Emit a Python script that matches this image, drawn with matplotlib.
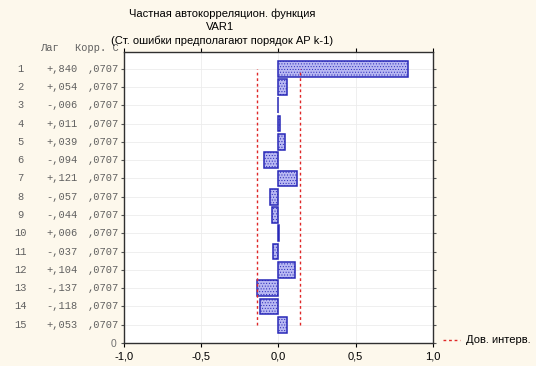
import numpy as np
import matplotlib.pyplot as plt
from matplotlib.lines import Line2D
from matplotlib.transforms import blended_transform_factory

# ------------------- data -------------------
lags = [1, 2, 3, 4, 5, 6, 7, 8, 9, 10, 11, 12, 13, 14, 15]
corr = [0.840, 0.054, -0.006, 0.011, 0.039, -0.094, 0.121, -0.057,
        -0.044, 0.006, -0.037, 0.104, -0.137, -0.118, 0.053]
std_err = [0.0707] * 15
conf_limit = 0.1414

bg = '#fdf8ec'
plt.rcParams['font.family'] = ['Liberation Sans', 'DejaVu Sans']
plt.rcParams['hatch.color'] = '#8080d0'
plt.rcParams['hatch.linewidth'] = 0.4

fig = plt.figure(figsize=(5.36, 3.66), dpi=100, facecolor=bg)
ax = fig.add_axes([0.2313, 0.0628, 0.5765, 0.7952])
ax.set_facecolor('white')

# lag 1 at the top, lag 15 near the bottom
ypos = [16 - l for l in lags]

ax.barh(ypos, corr, height=0.86, color='#b8b8f2', edgecolor='#2828b8',
        linewidth=1.1, hatch='......', zorder=3)

ax.plot([-conf_limit, -conf_limit], [ypos[-1], ypos[0]], color='#e02828',
        linestyle=(0, (2, 2)), linewidth=1.0, zorder=4)
ax.plot([conf_limit, conf_limit], [ypos[-1], ypos[0]], color='#e02828',
        linestyle=(0, (2, 2)), linewidth=1.0, zorder=4)

ax.set_xlim(-1.0, 1.0)
ax.set_ylim(0, 15.92)
ax.set_xticks([-1.0, -0.5, 0.0, 0.5, 1.0])
ax.set_xticklabels(['-1,0', '-0,5', '0,0', '0,5', '1,0'], fontsize=8)
ax.set_yticks([0] + ypos)
ax.set_yticklabels(['0'] + [''] * len(ypos), fontsize=7.5, color='#707070')
ax.tick_params(axis='x', direction='out', length=3, top=True, labeltop=False,
               pad=3)
ax.tick_params(axis='y', direction='out', length=2, right=True, color='#555555')
ax.grid(True, color='#ececec', linewidth=0.6, zorder=0)
for s in ax.spines.values():
    s.set_color('#303030')
    s.set_linewidth(1.0)

# table of lag / corr / se on the left
tr = blended_transform_factory(fig.transFigure, ax.transData)
mono = 'Liberation Mono'
for l, c, se, y in zip(lags, corr, std_err, ypos):
    ctxt = ('+' if c >= 0 else '-') + (',%03d' % round(abs(c) * 1000))
    setxt = ',' + ('%.4f' % se).split('.')[1]
    fig.text(0.038, y, str(l), transform=tr, ha='center', va='center',
             fontsize=7.5, family=mono, color='#606060')
    fig.text(0.144, y, ctxt, transform=tr, ha='right', va='center',
             fontsize=7.5, family=mono, color='#606060')
    fig.text(0.222, y, setxt, transform=tr, ha='right', va='center',
             fontsize=7.5, family=mono, color='#606060')
fig.text(0.093, 1 - 48 / 366, 'Лаг', ha='center', va='center', fontsize=7.5,
         family=mono, color='#606060')
fig.text(0.222, 1 - 48 / 366, 'Корр. С', ha='right', va='center', fontsize=7.5,
         family=mono, color='#606060')

# titles
fig.text(0.414, 1 - 14 / 366, 'Частная автокорреляцион. функция', ha='center',
         va='center', fontsize=8)
fig.text(0.411, 1 - 27 / 366, 'VAR1', ha='center', va='center', fontsize=8)
fig.text(0.414, 1 - 41 / 366, '(Ст. ошибки предполагают порядок АР k-1)',
         ha='center', va='center', fontsize=8)

# legend
fig.lines.append(Line2D([443 / 536, 460 / 536], [1 - 340 / 366, 1 - 340 / 366],
                        transform=fig.transFigure, color='#e02828',
                        linestyle=(0, (2, 2)), linewidth=1.0))
fig.text(466 / 536, 1 - 340 / 366, 'Дов. интерв.', ha='left', va='center',
         fontsize=8)

fig.savefig('out.png', dpi=100, facecolor=bg)
